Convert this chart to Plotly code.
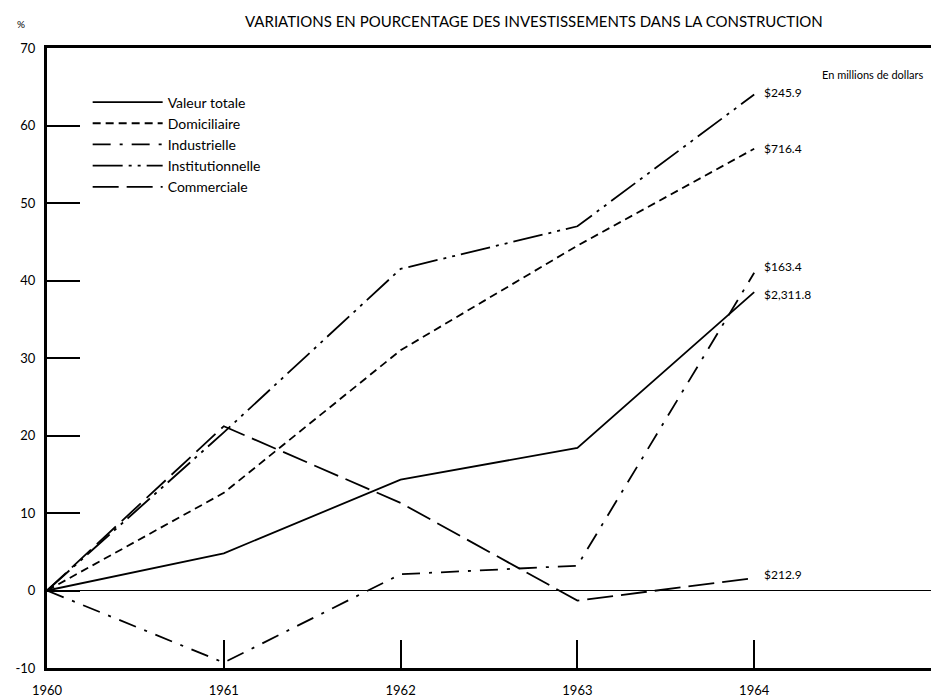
import plotly.graph_objects as go

years = [1960, 1961, 1962, 1963, 1964]
valeur_totale = [0, 4.8, 14.3, 18.4, 38.5]
domiciliaire = [0, 12.6, 31.0, 44.5, 57.0]
industrielle = [0, -9.3, 2.1, 3.2, 41.0]
institutionnelle = [0, 20.4, 41.5, 47.0, 64.0]
commerciale = [0, 21.2, 11.3, -1.3, 1.6]

series_names = ["Valeur totale", "Domiciliaire", "Industrielle", "Institutionnelle", "Commerciale"]
end_labels = ["$2,311.8", "$716.4", "$163.4", "$245.9", "$212.9"]
y_ticks = [-10, 0, 10, 20, 30, 40, 50, 60, 70]
title_text = "VARIATIONS EN POURCENTAGE DES INVESTISSEMENTS DANS LA CONSTRUCTION"
unit_text = "En millions de dollars"

FONT = "Lato, 'DejaVu Sans', sans-serif"

data = [valeur_totale, domiciliaire, industrielle, institutionnelle, commerciale]
dashes = ["solid", "8px,5px", "18px,9px,3px,9px", "30px,6px,3px,6px,3px,6px", "26px,8px"]

fig = go.Figure()
for name, vals, d in zip(series_names, data, dashes):
    fig.add_trace(go.Scatter(
        x=years, y=vals, mode="lines", name=name,
        line=dict(color="black", width=1.8, dash=d),
    ))

# end-value labels
label_shift = {"$2,311.8": (8, -2), "$716.4": (8, 0), "$163.4": (8, 6), "$245.9": (8, 2), "$212.9": (8, 4)}
for vals, lab in zip(data, end_labels):
    dx, dy = label_shift[lab]
    fig.add_annotation(x=years[-1], y=vals[-1], text=lab, showarrow=False,
                       xanchor="left", yanchor="middle", xshift=dx, yshift=dy,
                       font=dict(family=FONT, size=12, color="black"))

fig.add_annotation(x=0.5, y=1.0, xref="paper", yref="paper", xanchor="center", yanchor="bottom",
                   xshift=45, yshift=16, text=title_text, showarrow=False,
                   font=dict(family=FONT, size=15, color="black"))
fig.add_annotation(x=0, y=1.0, xref="paper", yref="paper", xanchor="right", yanchor="bottom",
                   xshift=-20, yshift=16, text="%", showarrow=False,
                   font=dict(family=FONT, size=10, color="black"))
fig.add_annotation(x=1.0, y=1.0, xref="paper", yref="paper", xanchor="right", yanchor="top",
                   xshift=-6, yshift=-18, text=unit_text, showarrow=False,
                   font=dict(family=FONT, size=11, color="black"))

fig.update_layout(
    width=931, height=700,
    margin=dict(l=47, r=0, t=48, b=32),
    paper_bgcolor="white", plot_bgcolor="white",
    font=dict(family=FONT, size=13, color="black"),
    showlegend=True,
    legend=dict(x=0.046, y=0.938, xanchor="left", yanchor="top",
                bgcolor="rgba(0,0,0,0)", itemwidth=70,
                font=dict(family=FONT, size=14, color="black"),
                tracegroupgap=0),
)
fig.update_xaxes(
    range=[1960, 1965], tickvals=years, ticktext=[str(y) for y in years],
    showline=True, linecolor="black", linewidth=3, mirror=True,
    ticks="inside", ticklen=28, tickwidth=1.5, tickcolor="black",
    showgrid=False, zeroline=False, ticklabelstandoff=8,
    tickfont=dict(family=FONT, size=13),
)
fig.update_yaxes(
    range=[-10, 70], tickvals=y_ticks, ticktext=[str(v) for v in y_ticks],
    showline=True, linecolor="black", linewidth=3,
    ticks="inside", ticklen=33, tickwidth=1.5, tickcolor="black",
    showgrid=False, zeroline=True, zerolinecolor="black", zerolinewidth=1,
    tickfont=dict(family=FONT, size=13), ticklabelstandoff=6,
)

fig.write_html("out.html", config={"displayModeBar": False},
               post_script="document.body.style.margin='0';")
